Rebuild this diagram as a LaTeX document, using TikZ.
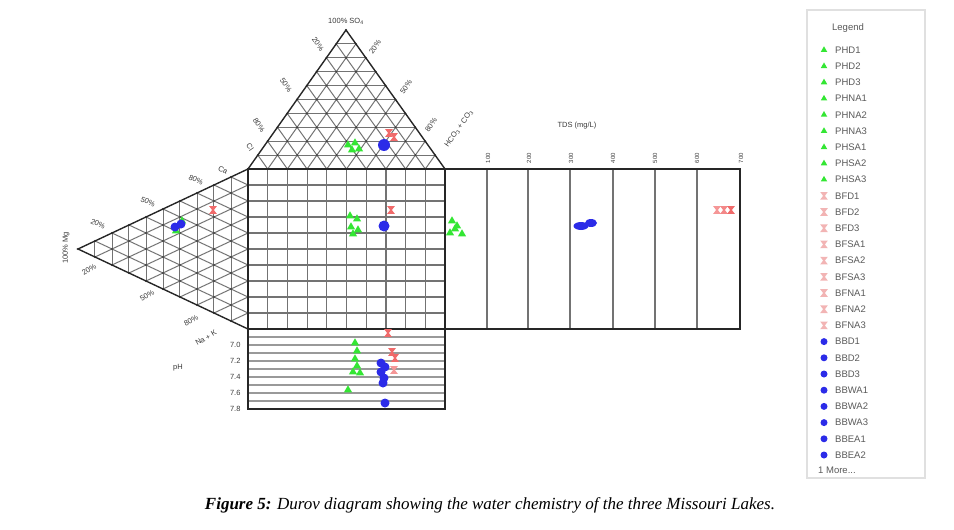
\documentclass[tikz,border=0pt]{standalone}
\usepackage{fontspec}
\setmainfont{Liberation Sans}
\newfontfamily\capfont{Liberation Serif}
\usetikzlibrary{calc,shapes.geometric}
\definecolor{gtri}{HTML}{33E633}
\definecolor{bdot}{HTML}{2B2BE8}
\definecolor{rhg}{HTML}{F06A6A}
\definecolor{rpale}{HTML}{F2B4B4}
\definecolor{labgray}{HTML}{3A3A3A}
\tikzset{
 outline/.style={draw=black!85, line width=1.4},
 gridln/.style={draw=black!55, line width=1.0},
 gtrimark/.style={regular polygon, regular polygon sides=3, fill=gtri, inner sep=0pt, minimum size=9.5pt},
 bdotmark/.style={circle, fill=bdot, inner sep=0pt, minimum size=9pt},
 lab/.style={font=\fontsize{7.5}{8}\selectfont, text=labgray, inner sep=0.3pt},
 legtxt/.style={font=\fontsize{9.5}{10}\selectfont, text=black!65, anchor=west, inner sep=0pt},
}
\newcommand\hgl[3][rhg]{\fill[#1] (#2,#3) +(-3.8,-3.8) -- +(3.8,-3.8) -- +(0.9,0) -- +(3.8,3.8) -- +(-3.8,3.8) -- +(-0.9,0) -- cycle;}
\newcommand\gtr[2]{\node[gtrimark] at (#1,#2) {};}
\newcommand\bdt[2]{\node[bdotmark] at (#1,#2) {};}
\begin{document}
\begin{tikzpicture}[x=1pt,y=-1pt]
\useasboundingbox (0,0) rectangle (954,530);
% corner coordinates
\coordinate (A) at (346,30);
\coordinate (B) at (248,169);
\coordinate (C) at (445,169);
\coordinate (L) at (78,249);
\coordinate (Q) at (248,329);
\coordinate (D) at (445,329);
\coordinate (E) at (248,409);
\coordinate (F) at (445,409);
\coordinate (T1) at (740,169);
\coordinate (T2) at (740,329);
% grids
\foreach \i in {1,...,9} {
  \pgfmathsetmacro\t{\i/10}
  \draw[gridln] ($(B)!\t!(A)$) -- ($(C)!\t!(A)$);
  \draw[gridln] ($(B)!\t!(C)$) -- ($(A)!\t!(C)$);
  \draw[gridln] ($(C)!\t!(B)$) -- ($(A)!\t!(B)$);
  \draw[gridln] ($(L)!\t!(B)$) -- ($(L)!\t!(Q)$);
  \draw[gridln] ($(Q)!\t!(B)$) -- ($(Q)!\t!(L)$);
  \draw[gridln] ($(B)!\t!(Q)$) -- ($(B)!\t!(L)$);
  \draw[gridln, line width=1.2] ($(B)!\t!(C)$) -- ($(Q)!\t!(D)$);
  \draw[gridln, line width=1.2] ($(B)!\t!(Q)$) -- ($(C)!\t!(D)$);
  \draw[gridln, line width=1.6, draw=black!40] ($(Q)!\t!(E)$) -- ($(D)!\t!(F)$);
}
% lattice dots
\foreach \i in {0,...,10} {
  \foreach \j in {0,...,10} {
    \pgfmathtruncatemacro\s{\i+\j}
    \ifnum\s<11
      \fill[black!75] (248+\i*19.7+\j*9.8,169-\j*13.9) circle (1.1);
      \fill[black!75] (78+\s*17,249-\i*8+\j*8) circle (1.1);
    \fi
  }
}
% TDS box lines
\foreach \x in {487,528,570,613,655,697} {
  \draw[gridln, line width=1.4] (\x,169) -- (\x,329);
}
% outlines
\draw[outline] (B) -- (A) -- (C);
\draw[outline] (B) -- (L) -- (Q);
\draw[outline] (B) rectangle (D);
\draw[outline] (Q) rectangle (F);
\draw[outline] (C) -- (T1) -- (T2) -- (D);
% labels top triangle
\node[lab] at (346,21) {100\% SO\textsubscript{4}};
\node[lab, rotate=-55] at (318,44) {20\%};
\node[lab, rotate=-55] at (286,85) {50\%};
\node[lab, rotate=-55] at (259,125) {80\%};
\node[lab, rotate=-55] at (250,147) {Cl};
\node[lab, rotate=55] at (375,47) {20\%};
\node[lab, rotate=55] at (406,87) {50\%};
\node[lab, rotate=55] at (431,125) {80\%};
\node[lab, rotate=55] at (459,129) {HCO\textsubscript{3} + CO\textsubscript{3}};
% labels left triangle
\node[lab, rotate=90] at (66,248) {100\% Mg};
\node[lab, rotate=-25] at (98,224) {20\%};
\node[lab, rotate=-25] at (148,202) {50\%};
\node[lab, rotate=-25] at (196,180) {80\%};
\node[lab, rotate=-25] at (223,170) {Ca};
\node[lab, rotate=30] at (89,270) {20\%};
\node[lab, rotate=30] at (147,296) {50\%};
\node[lab, rotate=30] at (191,321) {80\%};
\node[lab, rotate=30] at (206,338) {Na + K};
% pH labels
\node[lab, anchor=east] at (241,345) {7.0};
\node[lab, anchor=east] at (241,361) {7.2};
\node[lab, anchor=east] at (241,377) {7.4};
\node[lab, anchor=east] at (241,393) {7.6};
\node[lab, anchor=east] at (241,409) {7.8};
\node[lab] at (178,368) {pH};
% TDS labels
\node[lab] at (577,126) {TDS (mg/L)};
\foreach \x/\v in {488/100,529/200,571/300,613/400,655/500,697/600,741/700} {
  \node[lab, rotate=90, font=\fontsize{6}{6}\selectfont] at (\x,158) {\v};
}
% data: top triangle
\gtr{348}{145}\gtr{355}{143}\gtr{352}{150}\gtr{359}{149}
\hgl{389}{133}\hgl{394}{137}
\node[bdotmark, minimum size=12pt] at (384,145) {};
% data: square
\gtr{350}{216}\gtr{357}{219}\gtr{351}{227}\gtr{358}{230}\gtr{353}{234}
\hgl{391}{210}
\node[bdotmark, minimum size=11pt] at (384,226) {};
\gtr{452}{221}\gtr{457}{226}\gtr{450}{233}\gtr{462}{234}\gtr{455}{229}
% data: left triangle
\gtr{182}{221}\gtr{176}{231}
\bdt{175}{227}\bdt{181}{224}
\hgl{213}{210}
% data: TDS
\node[ellipse, fill=bdot, minimum width=15pt, minimum height=8pt, inner sep=0pt] at (581,226) {};
\node[ellipse, fill=bdot, minimum width=12pt, minimum height=8pt, inner sep=0pt] at (591,223) {};
\hgl[rhg!70]{717}{210}\hgl[rhg!80]{724}{210}\hgl[rhg]{731}{210}
% data: pH
\gtr{355}{343}\gtr{357}{351}\gtr{355}{359}\gtr{357}{366}\gtr{353}{372}\gtr{360}{373}\gtr{348}{390}
\hgl{388}{333}\hgl{392}{352}\hgl{395}{358}\hgl[rhg!70]{394}{370}
\bdt{381}{363}\bdt{385}{367}\bdt{381}{372}\bdt{384}{378}\bdt{383}{383}\bdt{385}{403}
% legend
\draw[black!12, line width=1.5] (807,10) rectangle (925,478);
\node[legtxt, anchor=center] at (848,28) {Legend};
\foreach \n [count=\k from 0] in {PHD1,PHD2,PHD3,PHNA1,PHNA2,PHNA3,PHSA1,PHSA2,PHSA3} {
  \node[gtrimark, minimum size=7.5pt] at (824,50+\k*16.2) {};
  \node[legtxt] at (835,50+\k*16.2) {\n};
}
\foreach \n [count=\k from 9] in {BFD1,BFD2,BFD3,BFSA1,BFSA2,BFSA3,BFNA1,BFNA2,BFNA3} {
  \hgl[rpale]{824}{50+\k*16.2}
  \node[legtxt] at (835,50+\k*16.2) {\n};
}
\foreach \n [count=\k from 18] in {BBD1,BBD2,BBD3,BBWA1,BBWA2,BBWA3,BBEA1,BBEA2} {
  \node[bdotmark, minimum size=7pt] at (824,50+\k*16.2) {};
  \node[legtxt] at (835,50+\k*16.2) {\n};
}
\node[legtxt] at (818,470) {1 More...};
% caption
\node[font=\capfont\itshape\fontsize{17}{20}\selectfont, text=black] at (490,505) {\textbf{Figure 5:} Durov diagram showing the water chemistry of the three Missouri Lakes.};
\end{tikzpicture}
\end{document}
